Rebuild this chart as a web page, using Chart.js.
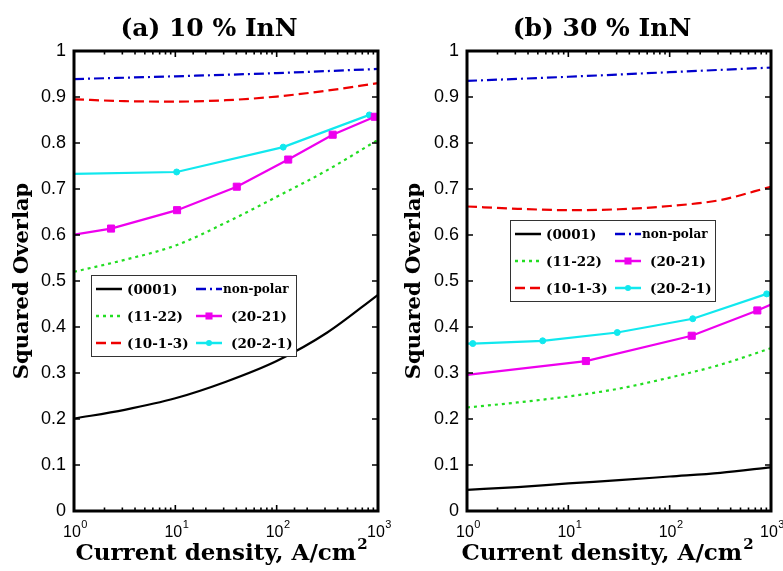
<!DOCTYPE html>
<html><head><meta charset="utf-8">
<script src="https://cdn.jsdelivr.net/npm/chart.js@4"></script>
<style>
html,body{margin:0;padding:0;background:#fff}
#wrap{position:relative;width:783px;height:571px;overflow:hidden;background:#fff}
canvas{position:absolute;top:0}
</style></head><body>
<div id="wrap">
<canvas id="ca" width="392" height="571" style="left:0;width:392px;height:571px"></canvas>
<canvas id="cb" width="391" height="571" style="left:392px;width:391px;height:571px"></canvas>
</div>
<script>
// ---------- data ----------
const PANEL_TITLES = ['(a) 10 % InN', '(b) 30 % InN'];
const X_LABEL = 'Current density, A/cm';
const X_LABEL_SUP = '2';
const Y_LABEL = 'Squared Overlap';
const SERIES_LABELS = ['(0001)', 'non-polar', '(11-22)', '(20-21)', '(10-1-3)', '(20-2-1)'];

const Y_TICKS = [0, 0.1, 0.2, 0.3, 0.4, 0.5, 0.6, 0.7, 0.8, 0.9, 1];
const Y_TICK_LABELS = ['0', '0.1', '0.2', '0.3', '0.4', '0.5', '0.6', '0.7', '0.8', '0.9', '1'];
const X_MAJOR = [1, 10, 100, 1000];
const X_EXPONENTS = ['0', '1', '2', '3'];

const X_SMOOTH = [1, 3.16, 10, 31.6, 100, 316, 1000];
const X_NONPOLAR = [1, 10, 100, 1000];

// (a) 10 % InN
const A_0001     = [0.201, 0.220, 0.245, 0.281, 0.326, 0.388, 0.470];
const A_NONPOLAR = [0.939, 0.945, 0.952, 0.961];
const A_1122     = [0.520, 0.546, 0.577, 0.627, 0.683, 0.741, 0.807];
const A_1013     = [0.895, 0.891, 0.890, 0.893, 0.901, 0.914, 0.930];
const A_2021_X   = [1, 2.32, 10.4, 40.4, 130, 357, 930, 1000];
const A_2021     = [0.601, 0.614, 0.654, 0.705, 0.764, 0.818, 0.857, 0.860];
const A_2021B_X  = [1, 10.3, 116, 821, 1000];
const A_2021B    = [0.733, 0.737, 0.791, 0.861, 0.862];

// (b) 30 % InN
const B_0001     = [0.046, 0.052, 0.060, 0.067, 0.075, 0.083, 0.095];
const B_NONPOLAR = [0.935, 0.944, 0.954, 0.964];
const B_1122     = [0.225, 0.236, 0.249, 0.266, 0.290, 0.318, 0.354];
const B_1013     = [0.662, 0.657, 0.654, 0.656, 0.663, 0.676, 0.705];
const B_2021_X   = [1, 14.9, 165, 733, 1000];
const B_2021     = [0.296, 0.326, 0.381, 0.436, 0.449];
const B_2021B_X  = [1, 1.14, 5.58, 30.4, 169, 907, 1000];
const B_2021B    = [0.364, 0.364, 0.370, 0.388, 0.418, 0.472, 0.473];

// ---------- styles ----------
const STYLES = [
  {color: '#000000', dash: [], smooth: true},
  {color: '#0000cc', dash: [10, 4, 2, 4], smooth: true},
  {color: '#22dd22', dash: [3, 4], smooth: true},
  {color: '#ee00ee', dash: [], point: 'rect', r: 5},
  {color: '#ee0000', dash: [10, 5], smooth: true},
  {color: '#11e8ee', dash: [], point: 'circle', r: 3}
];
const SERIF = '"DejaVu Serif", serif';
const SANS = '"Liberation Sans", Arial, sans-serif';

function pts(xs, ys) { return xs.map((x, i) => ({x: x, y: ys[i]})); }

function makeDatasets(series) {
  return series.map((s, i) => {
    const st = STYLES[i];
    const n = s.length;
    return {
      label: SERIES_LABELS[i],
      data: s,
      borderColor: st.color,
      backgroundColor: st.color,
      borderWidth: 2.2,
      borderDash: st.dash,
      fill: false,
      cubicInterpolationMode: st.smooth ? 'monotone' : 'default',
      tension: 0,
      pointStyle: st.point || 'circle',
      pointRadius: st.point ? (ctx => (ctx.dataIndex === 0 || ctx.dataIndex === n - 1) ? 0 : st.r) : 0,
      pointBorderWidth: 1,
      pointHoverRadius: 0,
      _style: st
    };
  });
}

function drawMarker(ctx, style, x, y, r) {
  ctx.save();
  ctx.fillStyle = style.color; ctx.strokeStyle = style.color; ctx.setLineDash([]);
  ctx.beginPath();
  if (style.point === 'rect') {
    const s = r * Math.SQRT1_2;
    ctx.rect(x - s, y - s, 2 * s, 2 * s);
  } else {
    ctx.arc(x, y, r, 0, Math.PI * 2);
  }
  ctx.fill();
  ctx.restore();
}

const decor = {
  id: 'decor',
  afterDatasetsDraw(chart, args, o) {
    const ctx = chart.ctx, a = chart.chartArea, xs = chart.scales.x, ys = chart.scales.y;
    ctx.save();
    ctx.strokeStyle = '#000';
    ctx.lineWidth = 1.6;
    ctx.setLineDash([]);
    ctx.beginPath();
    ys.ticks.forEach(t => {
      const py = ys.getPixelForValue(t.value);
      ctx.moveTo(a.left, py); ctx.lineTo(a.left + 6, py);
      ctx.moveTo(a.right, py); ctx.lineTo(a.right - 6, py);
    });
    xs.ticks.forEach(t => {
      const px = xs.getPixelForValue(t.value);
      const lg = Math.log10(t.value);
      const len = Math.abs(lg - Math.round(lg)) < 1e-6 ? 6 : 3.5;
      ctx.moveTo(px, a.bottom); ctx.lineTo(px, a.bottom - len);
      ctx.moveTo(px, a.top); ctx.lineTo(px, a.top + len);
    });
    ctx.stroke();
    ctx.lineWidth = 3;
    ctx.strokeRect(a.left, a.top, a.right - a.left, a.bottom - a.top);
    ctx.restore();
  },
  afterDraw(chart, args, o) {
    const ctx = chart.ctx, a = chart.chartArea, xs = chart.scales.x;
    ctx.save();
    ctx.fillStyle = '#000';
    // title
    ctx.font = 'bold 25px ' + SERIF;
    ctx.textAlign = 'center'; ctx.textBaseline = 'alphabetic';
    ctx.fillText(o.title, a.left + o.titleDx, 36);
    // x tick labels
    X_MAJOR.forEach((v, i) => {
      const px = xs.getPixelForValue(v);
      ctx.font = '16px ' + SANS;
      const w1 = ctx.measureText('10').width;
      ctx.font = '11px ' + SANS;
      const w2 = ctx.measureText(X_EXPONENTS[i]).width;
      const x0 = px - (w1 + w2) / 2 + 1;
      ctx.textAlign = 'left';
      ctx.font = '16px ' + SANS;
      ctx.fillText('10', x0, 537);
      ctx.font = '11px ' + SANS;
      ctx.fillText(X_EXPONENTS[i], x0 + w1 + 0.5, 528);
    });
    // x label
    ctx.font = 'bold 23px ' + SERIF;
    const wl = ctx.measureText(X_LABEL).width;
    ctx.font = 'bold 15px ' + SERIF;
    const ws = ctx.measureText(X_LABEL_SUP).width;
    const lx = a.left + o.xlabelDx - (wl + ws) / 2;
    ctx.textAlign = 'left';
    ctx.font = 'bold 23px ' + SERIF;
    ctx.fillText(X_LABEL, lx, 560);
    ctx.font = 'bold 15px ' + SERIF;
    ctx.fillText(X_LABEL_SUP, lx + wl + 1, 549);
    // legend
    const bx = a.left + o.legendDx, by = o.legendTop, bw = 205, bh = 81;
    ctx.fillStyle = '#fff';
    ctx.fillRect(bx, by, bw, bh);
    ctx.strokeStyle = '#333'; ctx.lineWidth = 1;
    ctx.strokeRect(bx + 0.5, by + 0.5, bw, bh);
    chart.data.datasets.forEach((ds, i) => {
      const st = ds._style;
      const col = i % 2, row = Math.floor(i / 2);
      const cy = by + 14 + row * 27;
      const l0 = bx + (col ? 105 : 5), l1 = bx + (col ? 131 : 31);
      ctx.strokeStyle = st.color; ctx.lineWidth = 2.5;
      ctx.setLineDash(st.dash);
      ctx.beginPath(); ctx.moveTo(l0, cy); ctx.lineTo(l1, cy); ctx.stroke();
      ctx.setLineDash([]);
      if (st.point) drawMarker(ctx, st, (l0 + l1) / 2, cy, st.r);
      ctx.fillStyle = '#000';
      ctx.textAlign = 'left'; ctx.textBaseline = 'middle';
      const small = ds.label === 'non-polar';
      ctx.font = 'bold ' + (small ? 12 : 13.5) + 'px ' + SERIF;
      ctx.fillText(ds.label, bx + (col ? (small ? 132 : 140) : 36), cy + 1);
      ctx.textBaseline = 'alphabetic';
    });
    ctx.restore();
  }
};

function makePanel(id, series, opts) {
  new Chart(document.getElementById(id), {
    type: 'line',
    data: {datasets: makeDatasets(series)},
    options: {
      responsive: false,
      animation: false,
      devicePixelRatio: 1,
      layout: {padding: {left: 0, right: opts.padRight, top: 51, bottom: 0}},
      plugins: {
        legend: {display: false},
        tooltip: {enabled: false},
        title: {display: false},
        decor: opts
      },
      scales: {
        x: {
          type: 'logarithmic',
          min: 1, max: 1000,
          grid: {display: false, drawTicks: false},
          border: {display: false},
          ticks: {display: false},
          afterFit: s => { s.height = 60; s.paddingLeft = 0; s.paddingRight = 0; }
        },
        y: {
          type: 'linear',
          min: 0, max: 1,
          grid: {display: false, drawTicks: false},
          border: {display: false},
          afterBuildTicks: s => { s.ticks = Y_TICKS.map(v => ({value: v})); },
          ticks: {
            padding: 8,
            color: '#000',
            font: {family: SANS, size: 18},
            callback: (v, i) => Y_TICK_LABELS[i]
          },
          title: {
            display: true, text: Y_LABEL, color: '#000',
            font: {family: SERIF, weight: 'bold', size: 21},
            padding: {top: 10, bottom: 0}
          },
          afterFit: s => { s.width = opts.yWidth; s.paddingTop = 0; s.paddingBottom = 0; }
        }
      }
    },
    plugins: [decor]
  });
}

makePanel('ca', [
  pts(X_SMOOTH, A_0001), pts(X_NONPOLAR, A_NONPOLAR), pts(X_SMOOTH, A_1122),
  pts(A_2021_X, A_2021), pts(X_SMOOTH, A_1013), pts(A_2021B_X, A_2021B)
], {title: PANEL_TITLES[0], titleDx: 135, xlabelDx: 147, legendDx: 17, legendTop: 275, yWidth: 74, padRight: 14});

makePanel('cb', [
  pts(X_SMOOTH, B_0001), pts(X_NONPOLAR, B_NONPOLAR), pts(X_SMOOTH, B_1122),
  pts(B_2021_X, B_2021), pts(X_SMOOTH, B_1013), pts(B_2021B_X, B_2021B)
], {title: PANEL_TITLES[1], titleDx: 135, xlabelDx: 140, legendDx: 43, legendTop: 220, yWidth: 75, padRight: 12});
</script>
</body></html>
